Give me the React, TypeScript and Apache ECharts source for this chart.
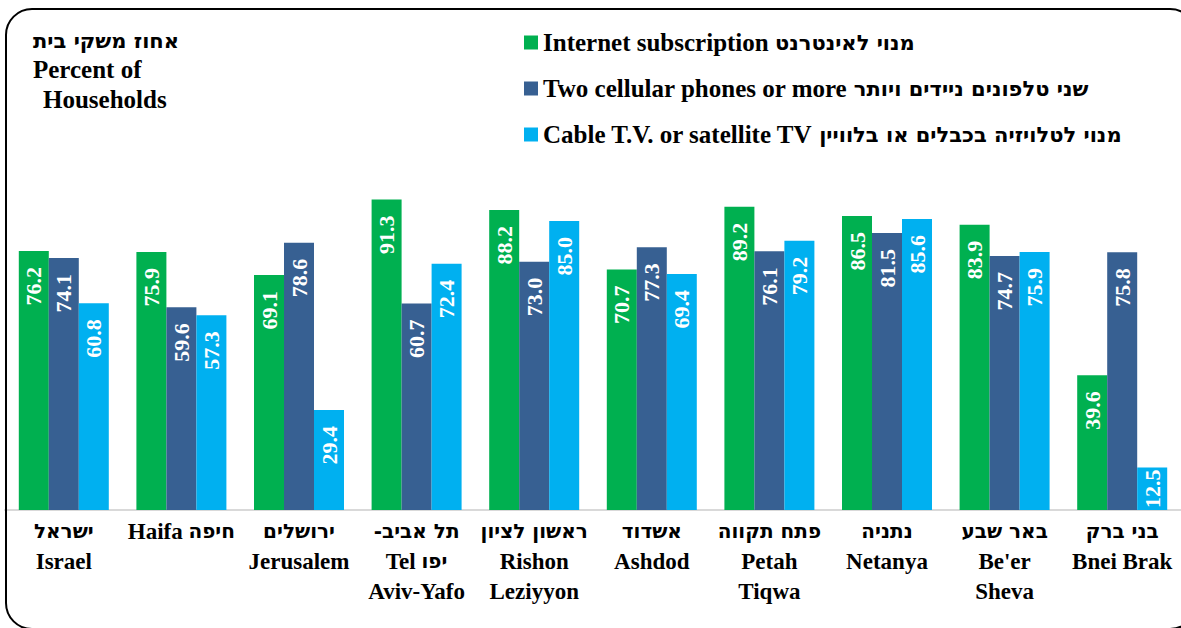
import React, { useEffect, useRef } from "react";
import * as echarts from "echarts";

const categories = [
  "ישראל\nIsrael",
  "Haifa חיפה",
  "ירושלים\nJerusalem",
  "-תל אביב\nTel יפו\nAviv-Yafo",
  "ראשון לציון\nRishon\nLeziyyon",
  "אשדוד\nAshdod",
  "פתח תקווה\nPetah\nTiqwa",
  "נתניה\nNetanya",
  "באר שבע\nBe'er\nSheva",
  "בני ברק\nBnei Brak",
];
const internet = [76.2, 75.9, 69.1, 91.3, 88.2, 70.7, 89.2, 86.5, 83.9, 39.6];
const cellular = [74.1, 59.6, 78.6, 60.7, 73.0, 77.3, 76.1, 81.5, 74.7, 75.8];
const cable = [60.8, 57.3, 29.4, 72.4, 85.0, 69.4, 79.2, 85.6, 75.9, 12.5];
const seriesNames = [
  "Internet subscription מנוי לאינטרנט",
  "Two cellular phones or more שני טלפונים ניידים ויותר",
  "Cable T.V. or satellite TV מנוי לטלויזיה בכבלים או בלוויין",
];
const titleLines = ["אחוז משקי בית", "Percent of", "Households"];

const FONT = '"Liberation Serif", "Times New Roman", serif';
const HFONT = '"DejaVu Sans", "Liberation Sans", sans-serif';

// split into latin / hebrew rich segments
function toRich(s: string): string {
  return s
    .split("\n")
    .map((line) => {
      const parts = line.match(/[\u0590-\u05FF\-]+(?:\s+[\u0590-\u05FF\-]+)*|[^\u0590-\u05FF]+/g) || [];
      return parts
        .map((p) => {
          const isHe = /[\u0590-\u05FF]/.test(p);
          return `{${isHe ? "he" : "en"}|${p}}`;
        })
        .join("");
    })
    .join("\n");
}

export default function App() {
  const ref = useRef<HTMLDivElement>(null);
  useEffect(() => {
    if (!ref.current) return;
    const chart = echarts.init(ref.current, null, { renderer: "svg" });
    const label = {
      show: true,
      position: "insideTop",
      rotate: 90,
      align: "right",
      verticalAlign: "middle",
      distance: 16,
      color: "#fff",
      fontWeight: "bold",
      fontSize: 22,
      fontFamily: FONT,
      formatter: (p: any) => Number(p.value).toFixed(1),
    };
    const colors = ["#00B050", "#376092", "#00B0F0"];
    const datas = [internet, cellular, cable];
    const richFor = (size: number, hsize: number, lh: number) => ({
      en: {
        fontFamily: FONT,
        fontWeight: "bold",
        fontSize: size,
        lineHeight: lh,
        color: "#000",
      },
      he: {
        fontFamily: HFONT,
        fontWeight: "bold",
        fontSize: hsize,
        lineHeight: lh,
        color: "#000",
      },
    });
    chart.setOption({
      animation: false,
      backgroundColor: "#fff",
      legend: {
        orient: "vertical",
        left: 519,
        top: 25,
        itemWidth: 14,
        itemHeight: 14,
        icon: "rect",
        itemGap: 21,
        formatter: (n: string) => toRich(n),
        textStyle: {
          fontFamily: FONT,
          fontWeight: "bold",
          fontSize: 25,
          lineHeight: 24,
          color: "#000",
          rich: richFor(25, 21, 24),
        },
        data: seriesNames,
      },
      grid: { left: 5, top: 170, width: 1179, height: 340 },
      xAxis: {
        type: "category",
        data: categories,
        axisLine: { lineStyle: { color: "#D9D9D9", width: 2 } },
        axisTick: { show: false },
        axisLabel: {
          interval: 0,
          margin: 6,
          color: "#000",
          fontFamily: FONT,
          fontWeight: "bold",
          fontSize: 23,
          lineHeight: 30,
          formatter: (v: string) => toRich(v),
          rich: richFor(23, 20, 30),
        },
      },
      yAxis: { type: "value", min: 0, max: 100, show: false },
      series: seriesNames.map((n, i) => ({
        name: n,
        type: "bar",
        data: datas[i].map((v) =>
          v < 20 ? { value: v, label: { distance: 2 } } : v
        ),
        barWidth: 30,
        barGap: "0%",
        itemStyle: { color: colors[i] },
        label,
      })),
      graphic: [
        {
          type: "rect",
          shape: { x: 6, y: 9, width: 1190, height: 620, r: 26 },
          style: { fill: "none", stroke: "#000", lineWidth: 2 },
          z: 100,
        },
        ...titleLines.map((t, i) => ({
          type: "text",
          left: i === 2 ? 43 : 33,
          top: [30, 57, 87][i],
          style: {
            text: t,
            fontFamily: i === 0 ? HFONT : FONT,
            fontWeight: "bold",
            fontSize: i === 0 ? 21 : 25,
            fill: "#000",
          },
        })),
      ],
    });
    return () => chart.dispose();
  }, []);
  return (
    <div
      ref={ref}
      style={{ position: "fixed", left: 0, top: 0, width: 1181, height: 628 }}
    />
  );
}
